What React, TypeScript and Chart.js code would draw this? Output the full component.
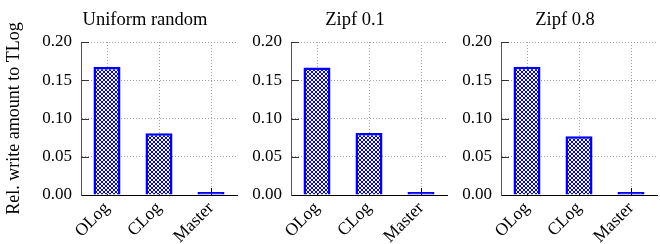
import React, { useEffect, useRef } from "react";
import { Chart, registerables } from "chart.js";

Chart.register(...registerables);

const categories = ["OLog", "CLog", "Master"];
const panelTitles = ["Uniform random", "Zipf 0.1", "Zipf 0.8"];
const uniformValues = [0.1672, 0.0806, 0.001];
const zipf01Values = [0.1668, 0.081, 0.001];
const zipf08Values = [0.1676, 0.0767, 0.001];
const yTickValues = [0, 0.05, 0.1, 0.15, 0.2];
const yAxisTitle = "Rel. write amount to TLog";

const FONT = "'Liberation Serif', 'DejaVu Serif', serif";
const BLUE = "#0000ff";

function makePattern(): CanvasPattern | string {
  const c = document.createElement("canvas");
  const n = 4;
  c.width = n;
  c.height = n;
  const g = c.getContext("2d");
  if (!g) return BLUE;
  g.fillStyle = "#ffffff";
  g.fillRect(0, 0, n, n);
  g.fillStyle = BLUE;
  for (let i = 0; i < n; i++) {
    g.fillRect(i, i, 1, 1);
    g.fillRect(n - 1 - i, i, 1, 1);
  }
  const p = g.createPattern(c, "repeat");
  return p || BLUE;
}

const inwardTicks = {
  id: "inwardTicks",
  beforeDatasetsDraw(chart: any) {
    const { ctx, chartArea } = chart;
    const x = chart.scales.x;
    const y = chart.scales.y;
    ctx.save();
    ctx.lineWidth = 1;
    ctx.strokeStyle = "#000";
    x.ticks.forEach((_t: any, i: number) => {
      const px = Math.round(x.getPixelForTick(i)) + 0.5;
      ctx.beginPath();
      ctx.moveTo(px, chartArea.bottom);
      ctx.lineTo(px, chartArea.bottom - 7);
      ctx.stroke();
    });
    ctx.strokeStyle = "#333";
    yTickValues.forEach((v) => {
      if (v === 0) return;
      const py = Math.round(y.getPixelForValue(v)) + 0.5;
      ctx.beginPath();
      ctx.moveTo(chartArea.left, py);
      ctx.lineTo(chartArea.left + 8, py);
      ctx.stroke();
    });
    ctx.restore();
  },
};

const panelTitle = {
  id: "panelTitle",
  afterDraw(chart: any, _args: any, opts: any) {
    const { ctx, chartArea } = chart;
    ctx.save();
    ctx.fillStyle = "#000";
    ctx.font = `18.5px ${FONT}`;
    ctx.textAlign = "center";
    ctx.textBaseline = "alphabetic";
    ctx.fillText(opts.text, (chartArea.left + chartArea.right) / 2 - 14, 25);
    ctx.restore();
  },
};

type PanelProps = {
  title: string;
  values: number[];
  showYTitle: boolean;
  left: number;
  width: number;
  yWidth: number;
};

function Panel({ title, values, showYTitle, left, width, yWidth }: PanelProps) {
  const ref = useRef<HTMLCanvasElement | null>(null);
  useEffect(() => {
    if (!ref.current) return;
    const pattern = makePattern();
    const chart = new Chart(ref.current, {
      type: "bar",
      data: {
        labels: categories,
        datasets: [
          {
            data: values,
            backgroundColor: (c: any) =>
              values[c.dataIndex] !== undefined && values[c.dataIndex] < 0.005 ? BLUE : (pattern as any),
            borderColor: BLUE,
            borderWidth: 2.5,
            barPercentage: 0.52,
            categoryPercentage: 1,
            minBarLength: 3,
          },
        ],
      },
      plugins: [inwardTicks, panelTitle],
      options: {
        animation: false,
        responsive: false,
        devicePixelRatio: 1,
        layout: { padding: { left: 0, right: 3, top: 42, bottom: 0 } },
        plugins: {
          legend: { display: false },
          tooltip: { enabled: false },
          title: { display: false },
          panelTitle: { text: title },
        } as any,
        scales: {
          x: {
            type: "category",
            offset: true,
            grid: {
              display: true,
              offset: false,
              drawTicks: false,
              color: "#a0a0a0",
              lineWidth: 1,
            },
            border: { display: true, color: "#000", width: 1, dash: [1, 2] } as any,
            ticks: {
              color: "#000",
              font: { family: FONT, size: 17.5 },
              minRotation: 45,
              maxRotation: 45,
              padding: 3,
            },
            afterFit(scale: any) {
              scale.height = 49;
            },
          },
          y: {
            type: "linear",
            min: 0,
            max: 0.2,
            afterBuildTicks(scale: any) {
              scale.ticks = yTickValues.map((v) => ({ value: v }));
            },
            grid: {
              display: true,
              drawTicks: false,
              color: "#a0a0a0",
              lineWidth: 1,
            },
            border: { display: true, color: "#555", width: 1, dash: [1, 2] } as any,
            ticks: {
              color: "#000",
              font: { family: FONT, size: 17 },
              padding: 9,
              callback: (v: any) => Number(v).toFixed(2),
            },
            title: {
              display: showYTitle,
              text: yAxisTitle,
              color: "#000",
              font: { family: FONT, size: 18 },
              padding: { top: 3, bottom: 0 },
            },
            afterFit(scale: any) {
              scale.width = yWidth;
            },
          },
        },
      },
    });
    return () => chart.destroy();
  }, []);
  return (
    <canvas
      ref={ref}
      width={width}
      height={244}
      style={{ position: "absolute", left, top: 0, width, height: 244 }}
    />
  );
}

export default function App() {
  return (
    <div style={{ position: "absolute", left: 0, top: 0, width: 660, height: 244, background: "#fff" }}>
      <Panel title={panelTitles[0]} values={uniformValues} showYTitle={true} left={0} width={240} yWidth={81} />
      <Panel title={panelTitles[1]} values={zipf01Values} showYTitle={false} left={240} width={210} yWidth={51} />
      <Panel title={panelTitles[2]} values={zipf08Values} showYTitle={false} left={450} width={210} yWidth={51} />
    </div>
  );
}
